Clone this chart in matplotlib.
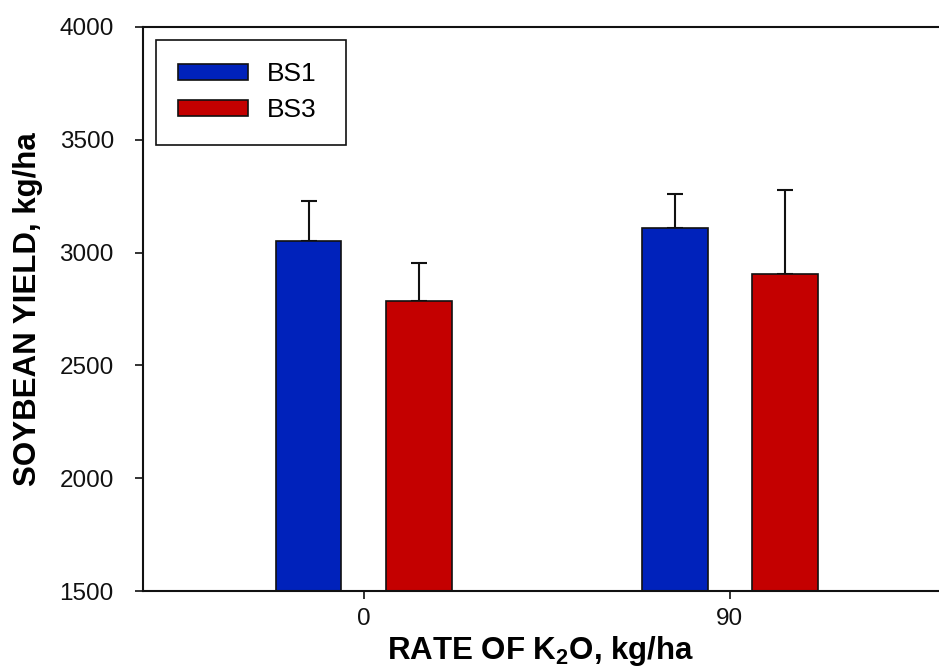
import numpy as np
import matplotlib
matplotlib.use("Agg")
from matplotlib import pyplot as plt

plt.rcParams["font.family"] = ["Liberation Sans", "DejaVu Sans"]
plt.rcParams["mathtext.fontset"] = "custom"
plt.rcParams["mathtext.rm"] = "Liberation Sans"
plt.rcParams["mathtext.bf"] = "Liberation Sans:bold"

# data
rates = [0, 90]
bs1_yield = [3053, 3110]
bs1_err = [174, 150]
bs3_yield = [2787, 2904]
bs3_err = [166, 372]

blue = "#0022BB"
red = "#C40000"

fig = plt.figure(figsize=(9.39, 6.66), dpi=100)
ax = fig.add_axes([0.1523, 0.1126, 0.8477, 0.8469])

x = np.array(rates, dtype=float)
off = 13.6
w = 16.2
ax.bar(x - off, bs1_yield, width=w, color=blue, edgecolor="#111111", linewidth=1.2,
       label="BS1", zorder=2)
ax.bar(x + off, bs3_yield, width=w, color=red, edgecolor="#111111", linewidth=1.2,
       label="BS3", zorder=2)
ax.errorbar(x - off, bs1_yield, yerr=[np.zeros(2), bs1_err], fmt="none",
            ecolor="#111111", elinewidth=1.5, capsize=6, capthick=1.5, zorder=1)
ax.errorbar(x + off, bs3_yield, yerr=[np.zeros(2), bs3_err], fmt="none",
            ecolor="#111111", elinewidth=1.5, capsize=6, capthick=1.5, zorder=1)

ax.set_xlim(-54.3, 141.4)
ax.set_ylim(1500, 4000)
ax.set_xticks(rates)
ax.set_yticks([1500, 2000, 2500, 3000, 3500, 4000])
ax.tick_params(direction="out", length=6, width=1.2, labelsize=17.5, colors="#111111")
ax.tick_params(axis="y", pad=15)
ax.tick_params(axis="x", pad=6)

for s in ["left", "top", "bottom"]:
    ax.spines[s].set_linewidth(1.5)
    ax.spines[s].set_color("#111111")
ax.spines["right"].set_visible(False)

ax.set_ylabel("SOYBEAN YIELD, kg/ha", fontsize=22.5, fontweight="bold", labelpad=12)
ax.set_xlabel(r"RATE OF K$_{\mathbf{2}}$O, kg/ha", fontsize=22.5, fontweight="bold", labelpad=3)

# legend box spans a fixed width like the original, text left aligned
leg = ax.legend(loc="upper left", bbox_to_anchor=(0.0163, 0.977, 0.2387, 0.0), mode="expand",
                fontsize=19, handlelength=2.65, handleheight=0.57,
                borderaxespad=0.0, borderpad=0.85, labelspacing=0.45, handletextpad=0.72,
                fancybox=False, framealpha=1, edgecolor="#111111")
leg.get_frame().set_linewidth(1.2)

fig.savefig("out.png", dpi=100)
